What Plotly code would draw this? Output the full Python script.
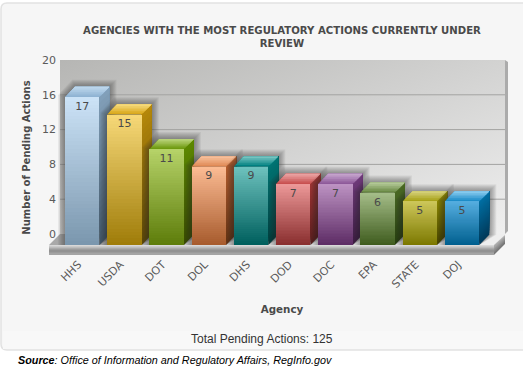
import base64
import plotly.graph_objects as go

agencies = ["HHS", "USDA", "DOT", "DOL", "DHS", "DOD", "DOC", "EPA", "STATE", "DOJ"]
actions = [17, 15, 11, 9, 9, 7, 7, 6, 5, 5]
y_ticks = [0, 4, 8, 12, 16, 20]

title_text = "AGENCIES WITH THE MOST REGULATORY ACTIONS CURRENTLY UNDER<br>REVIEW"
y_title = "Number of Pending Actions"
x_title = "Agency"
footer_text = "Total Pending Actions: 125"
source_text = "<b><i>Source</i></b><i>: Office of Information and Regulatory Affairs, RegInfo.gov</i>"

# colours: front top/bottom, side top/bottom, top-face front/back
palette = [
    ("#cde4f8", "#7b97ae", "#84a2bc", "#44596b", "#8fb3d3", "#c5ddf0"),
    ("#f8da7a", "#a07d0a", "#b88a0a", "#5e4a08", "#d9a91c", "#f9e08a"),
    ("#b7d46a", "#5e7d0b", "#5e8a00", "#3a4d00", "#6f9a10", "#c4dc8a"),
    ("#fdbd95", "#a85c2e", "#b8602f", "#653315", "#e08a55", "#fbc9a8"),
    ("#6fc3bf", "#00605e", "#007574", "#003f3f", "#008080", "#8cd0cc"),
    ("#ee9a9a", "#8a2f2f", "#a03535", "#5a1e1e", "#c85050", "#f0b0b0"),
    ("#be94c4", "#5e2d66", "#6f3a7a", "#3f1e45", "#8e5a9a", "#cfb0d5"),
    ("#a6be8a", "#3f5c1e", "#4a6a24", "#284010", "#6a8a45", "#bfd3a5"),
    ("#cdc75a", "#7c7800", "#8f8a00", "#4a4700", "#a8a218", "#dcd88a"),
    ("#55aee0", "#005f8f", "#0070a5", "#003a5a", "#1c8cc8", "#9ad5f5"),
]

# geometry of the plot area and of the pseudo-3D projection
W, H = 523, 372
PL, PR, PT, PB = 49, 515, 60, 255
X0, XS = 82.2, 42.2      # pixel of category 0, pixels per category
Y0, YS = 234.0, 8.7      # pixel of value 0 on the back wall, pixels per unit
BAR_W = 34.5 / XS
FRONT = 11 / YS          # front plane sits this far below the wall
DX, DY = 10 / XS, 10.3 / YS


def ux(px):
    return (px - X0) / XS


def uy(py):
    return (Y0 - py) / YS


def px_x(px):
    return (px - PL) / (PR - PL)


def px_y(py):
    return (PB - py) / (PB - PT)


def mix(c1, c2, t):
    a = [int(c1[i:i + 2], 16) for i in (1, 3, 5)]
    b = [int(c2[i:i + 2], 16) for i in (1, 3, 5)]
    return "rgb(%d,%d,%d)" % tuple(round(p + (q - p) * t) for p, q in zip(a, b))


fig = go.Figure()


def poly(xs, ys, color):
    fig.add_trace(go.Scatter(x=xs, y=ys, mode="lines", fill="toself", fillcolor=color,
                             line=dict(width=0), hoverinfo="skip", showlegend=False,
                             xaxis="x", yaxis="y"))


# gridlines on the back wall, drawn only across the wall
gx, gy = [], []
for t in y_ticks[1:-1]:
    gx += [ux(60), ux(505), None]
    gy += [t, t, None]
fig.add_trace(go.Scatter(x=gx, y=gy, mode="lines", line=dict(color="#a3a3a1", width=1),
                         hoverinfo="skip", showlegend=False))

# wall's right edge
poly([ux(505), ux(508), ux(508), ux(505)], [uy(234), uy(231), uy(62), uy(60)], "#ababab")

# floor top surface
N = 14
for k in range(N):
    a = 60 + (505 - 60) * k / N
    poly([ux(a - 11), ux(a), ux(505), ux(494)], [uy(245), uy(234), uy(234), uy(245)],
         mix("#a9a9a9", "#eeeeee", min(1, (k / N) * 2.2)))

# floor front slab
N = 10
for k in range(N):
    t = k / N
    top = 245 + 9.6 * t
    c = mix("#d8d8d8", "#8c8c8c", t / 0.55) if t < 0.55 else mix("#8c8c8c", "#b4b4b4", (t - 0.55) / 0.45)
    poly([ux(49), ux(494), ux(494), ux(49)], [uy(top), uy(top), uy(254.6), uy(254.6)], c)

# floor right side
N = 6
for k in range(N):
    t = k / N
    poly([ux(494), ux(505), ux(505), ux(494)],
         [uy(245 + 9.6 * t), uy(235 + 8.4 * t), uy(243.4), uy(254.6)],
         mix("#b0b0b0", "#6a6a6a", t))

# shadows, sides and top faces
for i, v in enumerate(actions):
    xl, xr = i - BAR_W / 2, i + BAR_W / 2
    base, top = -FRONT, v - FRONT
    front_top, front_bot, side_top, side_bot, cap_front, cap_back = palette[i]
    for g in (7, 6, 5, 4, 3, 2, 1):
        gx_, gy_ = g / XS, g / YS
        poly([xl - gx_, xl - gx_, xl + DX - gx_ * 0.4, xr + DX + gx_, xr + DX + gx_, xr],
             [base, top + gy_ * 0.3, top + DY + gy_, top + DY + gy_, base + DY, base],
             "rgba(40,40,40,0.07)")
    N = 24
    for k in range(N):
        t = k / N
        y_a = base + (top - base) * t
        poly([xr, xr, xr + DX, xr + DX], [y_a, top, top + DY, y_a + DY],
             mix(side_bot, side_top, t))
    N = 6
    for k in range(N):
        t = k / N
        poly([xl + DX * t, xr + DX * t, xr + DX, xl + DX],
             [top + DY * t, top + DY * t, top + DY, top + DY],
             mix(cap_front, cap_back, t))

# front faces: real bars, layered into a vertical gradient
STRIPS = 40
for k in range(STRIPS):
    t = k / STRIPS
    fig.add_trace(go.Bar(
        x=agencies,
        base=[v * t - FRONT for v in actions],
        y=[v / STRIPS * 1.5 for v in actions],
        width=BAR_W,
        marker=dict(color=[mix(p[1], p[0], t) for p in palette], line=dict(width=0)),
        xaxis="x2", yaxis="y2", hoverinfo="skip", showlegend=False,
    ))
    # last strip must stop exactly at the bar top
    if k == STRIPS - 1:
        fig.data[-1].y = [v / STRIPS for v in actions]

# value labels inside the front faces
fig.add_trace(go.Scatter(
    x=agencies, y=[v - FRONT - 10 / YS for v in actions],
    mode="text", text=[str(v) for v in actions], textposition="middle center",
    textfont=dict(family="DejaVu Sans", size=11, color="#4a4a4a"),
    xaxis="x2", yaxis="y2", hoverinfo="skip", showlegend=False,
))

wall_svg = ('<svg xmlns="http://www.w3.org/2000/svg" width="445" height="174" preserveAspectRatio="none">'
            '<defs><linearGradient id="g" x1="0" y1="0" x2="1" y2="1">'
            '<stop offset="0" stop-color="#b6b6b4"/><stop offset="1" stop-color="#efefef"/>'
            '</linearGradient></defs><rect width="445" height="174" fill="url(#g)"/></svg>')
wall_src = "data:image/svg+xml;base64," + base64.b64encode(wall_svg.encode()).decode()

x_range = [ux(PL), ux(PR)]
y_range = [uy(PB), uy(PT)]

card = (f"M {px_x(1)} {px_y(9)} Q {px_x(1)} {px_y(3)} {px_x(7)} {px_y(3)} L {px_x(530)} {px_y(3)} "
        f"L {px_x(530)} {px_y(350)} L {px_x(7)} {px_y(350)} Q {px_x(1)} {px_y(350)} {px_x(1)} {px_y(344)} Z")

fig.update_layout(
    width=W, height=H,
    margin=dict(l=PL, r=W - PR, t=PT, b=H - PB, pad=0),
    paper_bgcolor="#ffffff", plot_bgcolor="rgba(0,0,0,0)",
    barmode="overlay", bargap=0,
    showlegend=False,
    title=dict(text=title_text, x=282 / W, xanchor="center", xref="container",
               y=1 - 34.2 / H, yanchor="middle", yref="container",
               font=dict(family="DejaVu Sans", size=10.15, color="#4a4a4a", weight="bold")),
    xaxis=dict(range=x_range, tickmode="array", tickvals=list(range(len(agencies))), ticktext=agencies,
               tickangle=-45, showgrid=False, zeroline=False, showline=False,
               ticks="", ticklabelstandoff=0, ticklabelshift=-4,
               tickfont=dict(family="DejaVu Sans", size=11, color="#5a5a5a"),
               title=dict(text=x_title, standoff=15,
                          font=dict(family="DejaVu Sans", size=10.3, color="#4a4a4a", weight="bold"))),
    yaxis=dict(range=y_range, tickmode="array", tickvals=y_ticks, showgrid=False, zeroline=False,
               showline=False, anchor="free", position=px_x(56), ticks="",
               tickfont=dict(family="DejaVu Sans", size=11, color="#5a5a5a"),
               title=dict(text=y_title, standoff=8,
                          font=dict(family="DejaVu Sans", size=10, color="#4a4a4a", weight="bold"))),
    xaxis2=dict(type="category", categoryorder="array", categoryarray=agencies, range=x_range,
                overlaying="x", visible=False),
    yaxis2=dict(range=y_range, overlaying="y", visible=False),
    images=[dict(source=wall_src, xref="x", yref="y", x=ux(60), y=20, sizex=ux(505) - ux(60),
                 sizey=20, sizing="stretch", layer="below", xanchor="left", yanchor="top")],
    shapes=[
        dict(type="path", path=card, xref="paper", yref="paper", fillcolor="#f6f6f6",
             line=dict(color="#e2e2e2", width=1.5), layer="below"),
        dict(type="rect", xref="paper", yref="paper", x0=px_x(3), x1=px_x(530), y0=px_y(349), y1=px_y(331),
             fillcolor="#f8f8f8", line=dict(width=0), layer="below"),
    ],
    annotations=[
        dict(text=footer_text, xref="paper", yref="paper", x=px_x(262), y=px_y(339), showarrow=False,
             xanchor="center", yanchor="middle",
             font=dict(family="Liberation Sans", size=12, color="#333333")),
        dict(text=source_text, xref="paper", yref="paper", x=px_x(16), y=px_y(360), showarrow=False,
             xanchor="left", yanchor="middle",
             font=dict(family="Liberation Sans", size=10.8, color="#000000")),
    ],
)

fig.write_html("out.html", config=dict(displayModeBar=False),
               post_script="document.body.style.margin='0';document.body.style.overflow='hidden';")
